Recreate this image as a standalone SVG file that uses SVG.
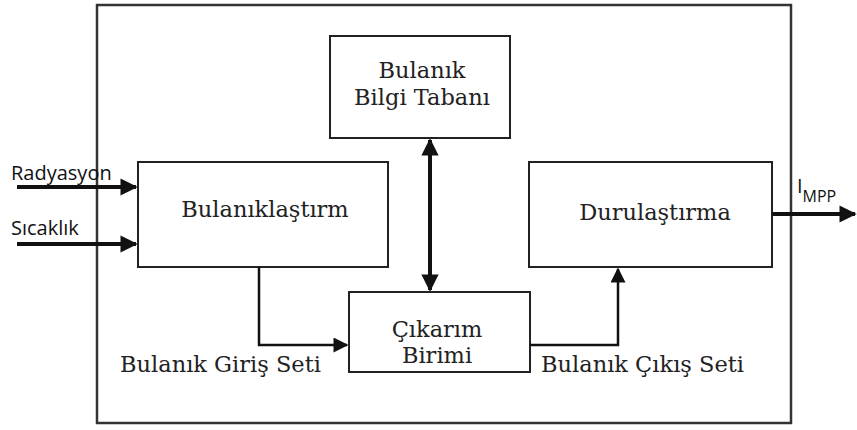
<svg xmlns="http://www.w3.org/2000/svg" width="857" height="430" viewBox="0 0 857 430">
<defs>
<style>
.box{fill:#fff;stroke:#222;stroke-width:2}
.outer{fill:#fff;stroke:#333;stroke-width:2.5}
.ln{fill:none;stroke:#111;stroke-width:2.5}
.thick{fill:none;stroke:#111;stroke-width:4}
.serif{font-family:"DejaVu Serif","Liberation Serif",serif;font-size:22.5px;fill:#222}
.sans{font-family:"Open Sans","Liberation Sans",sans-serif;font-size:20px;fill:#111}
</style>
<marker id="ah" viewBox="0 0 10 10" refX="9" refY="5" markerWidth="6.5" markerHeight="6" markerUnits="strokeWidth" orient="auto-start-reverse">
<path d="M0,0 L10,5 L0,10 z" fill="#111"/>
</marker>
<marker id="ah2" viewBox="0 0 10 10" refX="9" refY="5" markerWidth="4.8" markerHeight="4.3" markerUnits="strokeWidth" orient="auto-start-reverse">
<path d="M0,0 L10,5 L0,10 z" fill="#111"/>
</marker>
</defs>
<rect width="857" height="430" fill="#fff"/>
<g id="outer"><rect class="outer" x="97" y="5" width="694" height="418"/></g>
<g id="bilgi">
<rect class="box" x="330" y="36" width="180" height="102"/>
<text class="serif" x="422" y="78" text-anchor="middle">Bulanık</text>
<text class="serif" x="422" y="105" text-anchor="middle">Bilgi Tabanı</text>
</g>
<g id="bulaniklastirma">
<rect class="box" x="138" y="162" width="250" height="105"/>
<text class="serif" x="265" y="217" text-anchor="middle">Bulanıklaştırm</text>
</g>
<g id="durulastirma">
<rect class="box" x="529" y="162" width="243" height="105"/>
<text class="serif" x="655" y="220" text-anchor="middle">Durulaştırma</text>
</g>
<g id="cikarim">
<rect class="box" x="349" y="292" width="181" height="80"/>
<text class="serif" x="437" y="337" text-anchor="middle">Çıkarım</text>
<text class="serif" x="437" y="363" text-anchor="middle">Birimi</text>
</g>
<g id="connectors">
<line class="thick" x1="17" y1="187" x2="136" y2="187" marker-end="url(#ah2)"/>
<line class="thick" x1="17" y1="244" x2="136" y2="244" marker-end="url(#ah2)"/>
<line class="thick" x1="430" y1="140" x2="430" y2="290" marker-start="url(#ah2)" marker-end="url(#ah2)"/>
<polyline class="ln" points="259,267 259,345 347,345" marker-end="url(#ah)"/>
<polyline class="ln" points="530,345 618,345 618,269" marker-end="url(#ah)"/>
<line class="thick" x1="772" y1="214" x2="855" y2="214" marker-end="url(#ah2)"/>
</g>
<g id="labels">
<text class="sans" x="11" y="180">Radyasyon</text>
<text class="sans" x="11" y="235">Sıcaklık</text>
<text class="sans" x="797" y="193" font-size="21">I<tspan font-size="16" dy="9">MPP</tspan></text>
<text class="serif" x="120" y="372">Bulanık Giriş Seti</text>
<text class="serif" x="541" y="372">Bulanık Çıkış Seti</text>
</g>
</svg>
